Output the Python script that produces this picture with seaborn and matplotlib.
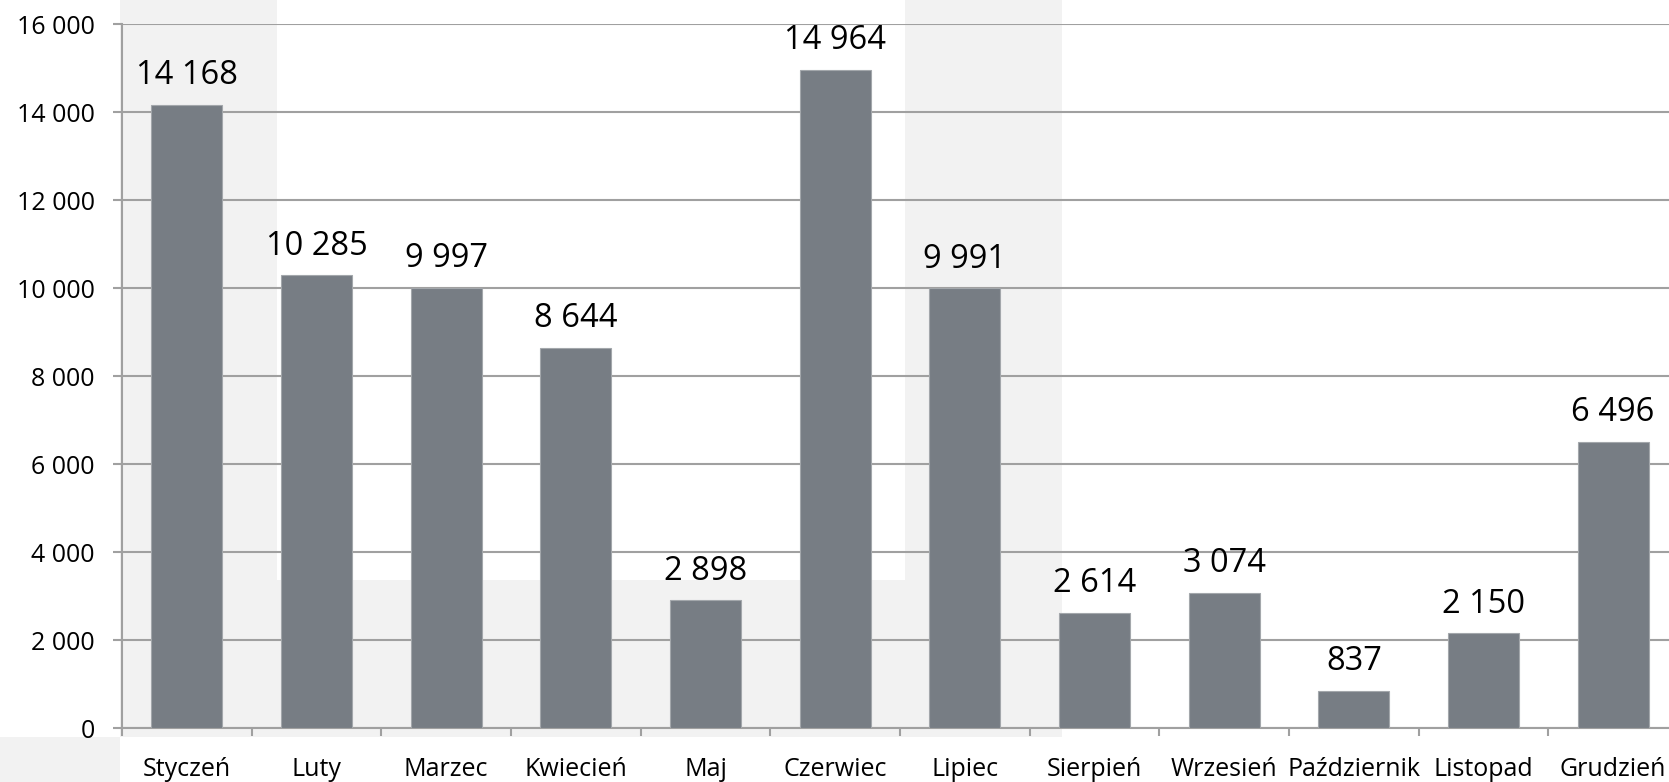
import matplotlib
matplotlib.use("Agg")
import matplotlib.pyplot as plt
from matplotlib.patches import Rectangle
import seaborn as sns
import pandas as pd

months = ["Styczeń", "Luty", "Marzec", "Kwiecień", "Maj", "Czerwiec", "Lipiec",
          "Sierpień", "Wrzesień", "Październik", "Listopad", "Grudzień"]
values = [14168, 10285, 9997, 8644, 2898, 14964, 9991, 2614, 3074, 837, 2150, 6496]
y_ticks = [0, 2000, 4000, 6000, 8000, 10000, 12000, 14000, 16000]

def fmt(v):
    return f"{v:,}".replace(",", " ")

sns.set_theme(style="white")
plt.rcParams['font.family'] = ['Open Sans', 'DejaVu Sans']

W, H = 1669, 782
fig = plt.figure(figsize=(W / 100, H / 100), dpi=100)
fig.patch.set_facecolor("white")

# light grey background blocks (pixel coords, top-origin)
bg = "#f2f2f2"
for (x0, x1, y0, y1) in [(120, 277, 0, 737), (277, 905, 580, 737),
                         (905, 1062, 0, 737), (0, 120, 737, 782)]:
    fig.add_artist(Rectangle((x0 / W, 1 - y1 / H), (x1 - x0) / W, (y1 - y0) / H,
                             transform=fig.transFigure, facecolor=bg,
                             edgecolor="none", zorder=-5))

left, right, top, bottom = 122, 1678, 24, 728
ax = fig.add_axes([left / W, 1 - bottom / H, (right - left) / W, (bottom - top) / H])
ax.set_facecolor("none")

df = pd.DataFrame({"month": months, "value": values})
sns.barplot(data=df, x="month", y="value", color="#777d84", saturation=1,
            width=0.55, edgecolor="#a3a7ab", linewidth=0.8, ax=ax, zorder=3)

ax.set_xlim(-0.5, 11.5)
ax.set_ylim(0, 16000)
ax.set_yticks(y_ticks)
ax.set_yticklabels([fmt(t) for t in y_ticks], fontsize=18, color="black")
ax.set_xlabel("")
ax.set_ylabel("")

gc = "#a0a0a0"
ax.grid(axis="y", color=gc, linewidth=1.5, zorder=0)
ax.set_axisbelow(True)
for s in ["top", "right"]:
    ax.spines[s].set_visible(False)
for s in ["left", "bottom"]:
    ax.spines[s].set_color(gc)
    ax.spines[s].set_linewidth(1.5)

ax.tick_params(axis="y", which="major", left=True, length=6.5, width=1.5,
               color=gc, pad=13)
ax.set_xticks(range(len(months)))
ax.set_xticklabels(months, fontsize=18, color="black")
ax.tick_params(axis="x", which="major", bottom=True, length=0, pad=21)
ax.set_xticks([i - 0.5 for i in range(len(months) + 1)], minor=True)
ax.tick_params(axis="x", which="minor", bottom=True, length=6, width=1.5,
               color=gc, direction="out")

for i, v in enumerate(values):
    ax.annotate(fmt(v), (i, v), xytext=(0, 15), textcoords="offset points",
                ha="center", va="baseline", fontsize=23.5, color="black",
                annotation_clip=False)

fig.savefig("out.png", dpi=100)
